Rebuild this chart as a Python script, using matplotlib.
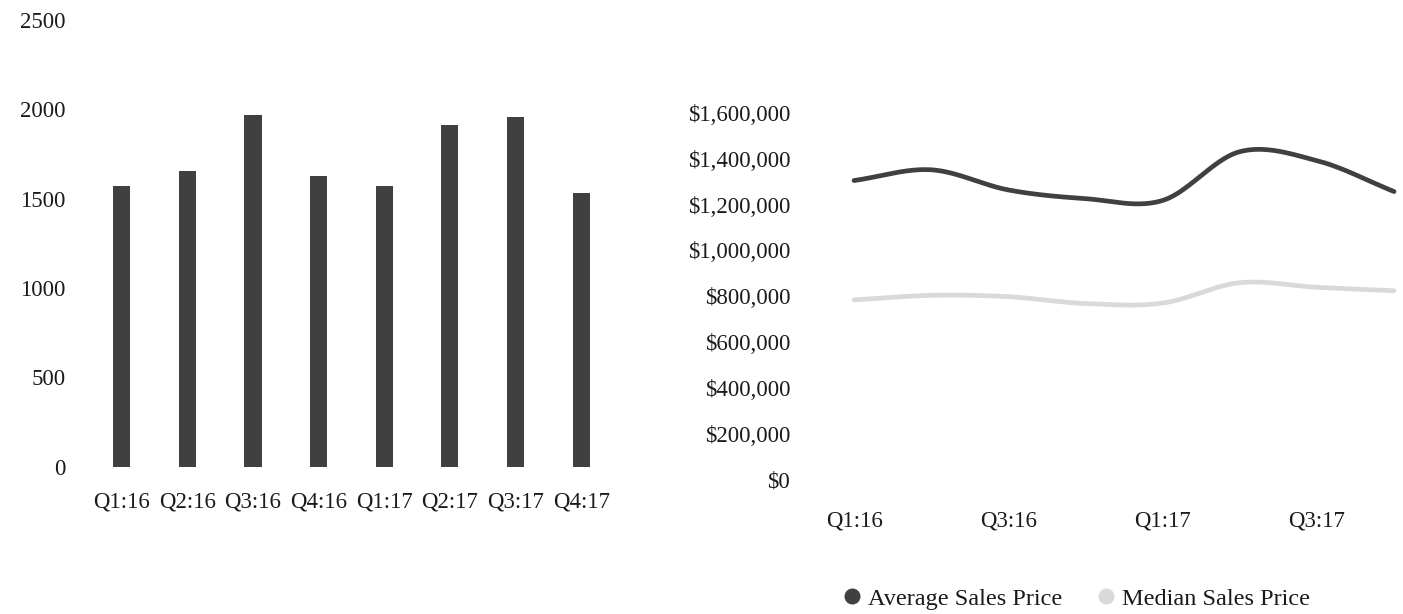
import numpy as np
import matplotlib
matplotlib.use("Agg")
import matplotlib.pyplot as plt
from matplotlib.lines import Line2D
from matplotlib.ticker import FuncFormatter

plt.rcParams["font.family"] = ["Liberation Serif", "DejaVu Serif"]

# Quarterly data
quarters = ["Q1:16", "Q2:16", "Q3:16", "Q4:16", "Q1:17", "Q2:17", "Q3:17", "Q4:17"]
units_sold = [1572, 1653, 1969, 1628, 1572, 1913, 1956, 1529]
avg_price = [1305000, 1352000, 1264000, 1226000, 1218000, 1431000, 1392000, 1257000]
median_price = [784000, 804000, 798000, 768000, 770000, 859000, 839000, 824000]

BAR_COLOR = "#404040"
AVG_COLOR = "#404040"
MED_COLOR = "#d9d9d9"
TEXT_COLOR = "#1a1a1a"
FS = 16.5


def smooth(y, n=40):
    """Catmull-Rom interpolation through the points (index as x)."""
    y = np.asarray(y, dtype=float)
    p = np.concatenate([[2 * y[0] - y[1]], y, [2 * y[-1] - y[-2]]])
    xs, ys = [], []
    for i in range(len(y) - 1):
        p0, p1, p2, p3 = p[i], p[i + 1], p[i + 2], p[i + 3]
        t = np.linspace(0, 1, n, endpoint=(i == len(y) - 2))
        seg = 0.5 * ((2 * p1) + (-p0 + p2) * t + (2 * p0 - 5 * p1 + 4 * p2 - p3) * t**2
                     + (-p0 + 3 * p1 - 3 * p2 + p3) * t**3)
        xs.append(i + t)
        ys.append(seg)
    return np.concatenate(xs), np.concatenate(ys)


fig = plt.figure(figsize=(14.03, 6.14), dpi=100)

# Left: units sold bar chart
ax1 = fig.add_axes([0.0634, 0.2402, 0.3742, 0.7272])
x = np.arange(len(quarters))
ax1.bar(x, units_sold, width=0.26, color=BAR_COLOR)
ax1.set_xlim(-0.5, len(quarters) - 0.5)
ax1.set_ylim(0, 2500)
ax1.set_yticks(np.arange(0, 2501, 500))
ax1.set_xticks(x)
ax1.set_xticklabels(quarters)
for s in ax1.spines.values():
    s.set_visible(False)
ax1.tick_params(axis="both", length=0, labelsize=FS, colors=TEXT_COLOR)
ax1.tick_params(axis="y", pad=17)
ax1.tick_params(axis="x", pad=18)

# Right: sales price lines
ax2 = fig.add_axes([0.6087, 0.2191, 0.3849, 0.5969])
for vals, col in [(avg_price, AVG_COLOR), (median_price, MED_COLOR)]:
    sx, sy = smooth(vals)
    ax2.plot(sx, sy, color=col, lw=3.4, solid_capstyle="round", clip_on=False)
ax2.set_xlim(0, len(quarters) - 1)
ax2.set_ylim(0, 1600000)
ax2.set_yticks(np.arange(0, 1600001, 200000))
ax2.yaxis.set_major_formatter(FuncFormatter(lambda v, _: f"${v:,.0f}"))
ax2.set_xticks(x[::2])
ax2.set_xticklabels(quarters[::2])
for s in ax2.spines.values():
    s.set_visible(False)
ax2.tick_params(axis="both", length=0, labelsize=FS, colors=TEXT_COLOR)
ax2.tick_params(axis="y", pad=46)
ax2.tick_params(axis="x", pad=22)

handles = [
    Line2D([], [], marker="o", ls="none", color=AVG_COLOR, markersize=10.5),
    Line2D([], [], marker="o", ls="none", color=MED_COLOR, markersize=10.5),
]
fig.legend(handles, ["Average Sales Price", "Median Sales Price"], loc="center",
           bbox_to_anchor=(1075 / 1403, 0.025), ncol=2, frameon=False,
           fontsize=17.5, handletextpad=0.15, columnspacing=1.3, handlelength=1.0,
           labelcolor=TEXT_COLOR)

fig.savefig("out.png", dpi=100)
